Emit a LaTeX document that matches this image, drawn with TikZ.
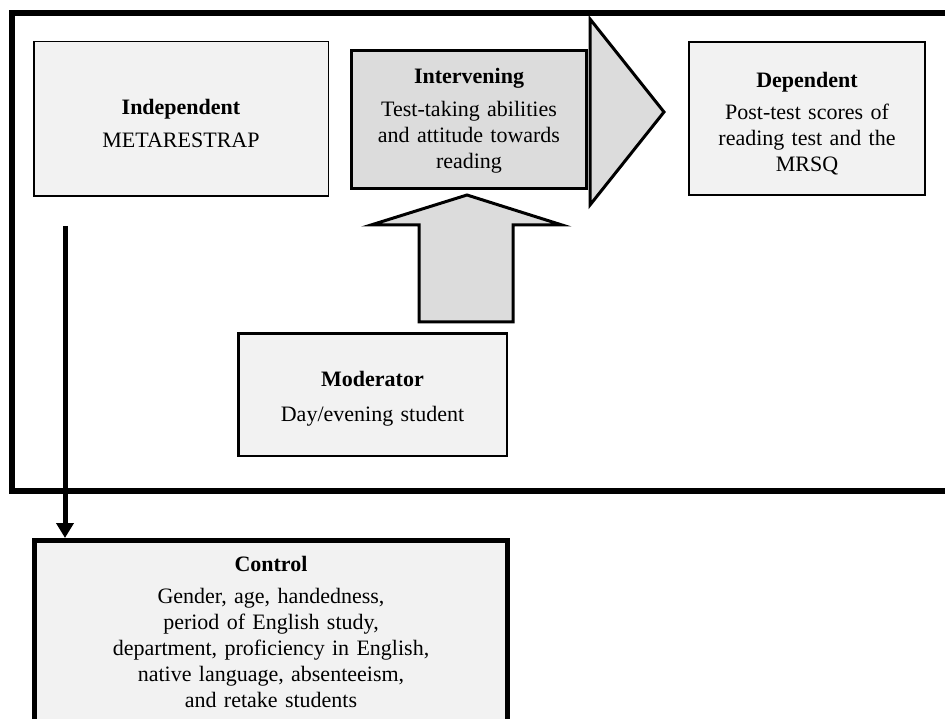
\documentclass[tikz,border=0pt]{standalone}
\usepackage{fontspec}
\setmainfont{Liberation Serif}
\usetikzlibrary{arrows.meta}
\definecolor{paper}{HTML}{F2F2F2}
\definecolor{shade}{HTML}{DCDCDC}
\begin{document}
\begin{tikzpicture}[x=1pt,y=-1pt,
  varbox/.style={draw=black, fill=paper, inner sep=0pt},
  lbl/.style={anchor=base, align=center, inner sep=0pt, text width=#1,
    font=\fontsize{22}{26}\selectfont},
  lbl/.default=300pt,
  blockarrow/.style={draw=black, fill=shade, line width=3pt, line join=miter}]

\path[use as bounding box, clip] (0,0) rectangle (945,719);

% outer frame, open towards the right
\draw[line width=6pt, line join=miter] (960,13) -- (12,13) -- (12,491) -- (960,491);

% variable boxes
\node[varbox, line width=1.5pt, minimum width=294.5pt, minimum height=154.5pt]
  (indep) at (181,119) {};
\node[varbox, line width=2pt, minimum width=236pt, minimum height=153pt]
  (dep) at (807,118.5) {};
\node[varbox, fill=shade, line width=3pt, minimum width=235pt, minimum height=138pt]
  (interv) at (469,119.5) {};
\node[varbox, line width=2.5pt, minimum width=268.5pt, minimum height=122.5pt]
  (moder) at (372.5,394.5) {};
\node[varbox, line width=5pt, minimum width=473pt, minimum height=259pt]
  (ctl) at (271,670) {};

% head of the intervening arrow
\draw[blockarrow] (590,19) -- (664,112) -- (590,205) -- cycle;

% moderator arrow pointing up
\draw[blockarrow] (467,195) -- (562,225) -- (513,225) -- (513,322)
  -- (419,322) -- (419,225) -- (371,225) -- cycle;

% labels
\node[lbl] (indepTxt) at (181,115) {\textbf{Independent}\\[7pt]METARESTRAP};
\node[lbl] (intervTxt) at (469,84)
  {\textbf{Intervening}\\[7pt]Test-taking abilities\\and attitude towards\\reading};
\node[lbl] (depTxt) at (807,88)
  {\textbf{Dependent}\\[6pt]Post-test scores of\\reading test and the\\MRSQ};
\node[lbl] (moderTxt) at (372.5,386) {\textbf{Moderator}\\[9pt]Day/evening student};
\node[lbl=460pt] (ctlTxt) at (271,571)
  {\textbf{Control}\\[6pt]Gender, age, handedness,\\period of English study,\\
   department, proficiency in English,\\native language, absenteeism,\\and retake students};

% connector down to the control variables
\coordinate (ctlFrom) at (65,226);
\draw[line width=5pt, -{Triangle[length=15pt,width=17pt]}]
  (ctlFrom) -- (ctlFrom |- ctl.north);

\end{tikzpicture}
\end{document}
